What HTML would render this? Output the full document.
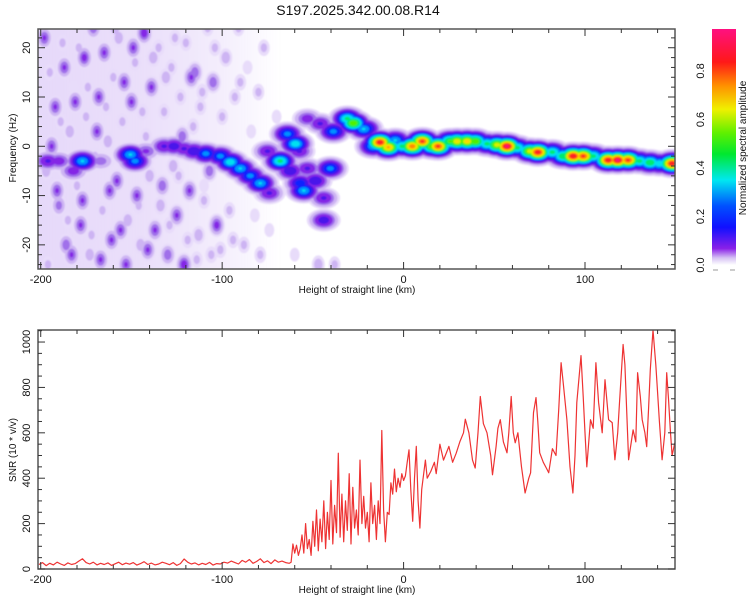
<!DOCTYPE html>
<html><head><meta charset="utf-8">
<style>
html,body{margin:0;padding:0;background:#fff;}
body{width:750px;height:600px;overflow:hidden;font-family:"Liberation Sans",sans-serif;}
svg text{font-family:"Liberation Sans",sans-serif;fill:#111;}
</style></head>
<body>
<svg id="chart" width="750" height="600" xmlns="http://www.w3.org/2000/svg">
<defs>
<clipPath id="clipTop"><rect x="38" y="29" width="637" height="240"/></clipPath>
<clipPath id="clipBot"><rect x="38" y="330" width="637" height="239"/></clipPath>
<filter id="soft" x="-5%" y="-5%" width="110%" height="110%"><feGaussianBlur stdDeviation="0.9"/></filter>
<linearGradient id="hazeGrad" x1="0" y1="0" x2="1" y2="0">
<stop offset="0" stop-color="#e2d2f8" stop-opacity="0.85"/>
<stop offset="0.45" stop-color="#e2d2f8" stop-opacity="0.7"/>
<stop offset="0.75" stop-color="#e2d2f8" stop-opacity="0.4"/>
<stop offset="1" stop-color="#e2d2f8" stop-opacity="0"/>
</linearGradient>
<linearGradient id="cbGrad" x1="0" y1="1" x2="0" y2="0">
<stop offset="0" stop-color="#ffffff"/>
<stop offset="0.03" stop-color="#d6c2f4"/>
<stop offset="0.07" stop-color="#8a20e8"/>
<stop offset="0.16" stop-color="#1010ff"/>
<stop offset="0.25" stop-color="#0050ff"/>
<stop offset="0.36" stop-color="#00e8f0"/>
<stop offset="0.47" stop-color="#00e830"/>
<stop offset="0.56" stop-color="#60f000"/>
<stop offset="0.66" stop-color="#f0f000"/>
<stop offset="0.76" stop-color="#ff9000"/>
<stop offset="0.86" stop-color="#ff1818"/>
<stop offset="1" stop-color="#ff1080"/>
</linearGradient>
</defs>
<text x="358" y="15" font-size="14" text-anchor="middle">S197.2025.342.00.08.R14</text>
<g id="topPlot"></g>
<g id="botPlot"></g>
<g id="colorbar"></g>
</svg>
<script>
// ---------- data ----------
const xDomain = [-201.5, 149.6];
const freqDomain = [-24.9, 23.8];
const snrDomain = [0, 1053];
const xTickLabels = [-200, -100, 0, 100];
const freqTickLabels = [-20, -10, 0, 10, 20];
const snrTickLabels = [0, 200, 400, 600, 800, 1000];
const cbTickLabels = [0.0, 0.2, 0.4, 0.6, 0.8];

// haze region of low-level noise (km)
const hazeStart = [-201.5];
const hazeEnd = [-68];

// ridge blobs (km, Hz, normalized amplitude)
const ridgeKm = [-196,-190,-182,-177,-167,-150.6,-148,-142,-132,-126.6,-121,-115.6,-109,-101,-95.5,-90,-84.5,-79,-74,-75,-68,-62.5,-57,-55,-64,-59.6,-57.5,-53,-48.6,-44,-44,-53,-46,-40.4,-38.7,-31,-27.7,-22,-21,-16.7,-13,-8.4,-4.6,-0.7,4.8,10.3,15.8,19,25.7,29.5,35,39.5,46,51.5,57,62.6,69.7,74,82,88,93.5,99,104.5,112.8,118,123.7,130,135.8,141,148];
const ridgeHz = [-3,-3,-5,-3,-3,-1.7,-3,-1,0,0,-0.5,-1,-1.5,-2,-3.2,-4.5,-6,-7.5,-9.5,-1,-3,-5,-7.5,-9,2.5,0.5,-1,-4.5,-7,-10.5,-15,5.6,4.6,-4.5,3,5.6,4.7,3.5,3.6,0,0.8,-0.2,1.2,0,0,1,0,0,1,1,1,1,0.5,0.3,0,-0.3,-1,-1.2,-1.2,-2,-2,-2,-2,-2.8,-2.8,-2.8,-3,-3.3,-3.5,-3.5];
const ridgeAmp = [0.15,0.12,0.12,0.35,0.08,0.35,0.3,0.1,0.15,0.18,0.15,0.2,0.3,0.3,0.4,0.35,0.3,0.35,0.15,0.15,0.45,0.2,0.25,0.35,0.3,0.4,0.15,0.15,0.2,0.15,0.18,0.12,0.15,0.3,0.3,0.45,0.6,0.35,0.3,0.35,0.9,0.75,0.35,0.45,0.8,0.85,0.6,0.85,0.55,0.68,0.7,0.6,0.45,0.65,0.95,0.45,0.65,0.9,0.45,0.5,0.92,0.85,0.45,0.9,0.95,0.85,0.45,0.5,0.4,0.9];

// background noise blobs (km, Hz, amplitude)
const noiseKm = [-198,-195,-192,-190,-188,-186,-184,-182,-180,-178,-176,-175,-173,-171,-170,-168,-166,-165,-163,-161,-160,-158,-157,-155,-153,-152,-150,-148,-147,-145,-143,-142,-140,-139,-137,-135,-134,-132,-130,-128,-127,-125,-123,-121,-120,-118,-116,-115,-113,-112,-110,-108,-107,-105,-103,-101,-100,-98,-96,-94,-93,-91,-88,-86,-84,-82,-80,-79,-77,-74,-70,-60,-47,-197,-196,-194,-191,-189,-187,-185,-183,-181,-179,-177,-174,-172,-169,-167,-164,-162,-159,-156,-154,-151,-149,-146,-144,-141,-138,-136,-133,-131,-129,-126,-124,-122,-119,-117,-114,-111,-109,-106,-104,-38,-90,-110];
const noiseHz = [22,15,8,-12,21,-20,3,12,-8,-16,18,6,-22,24,-2,10,-13,19,1,-19,14,-7,22,5,-24,-15,9,17,-10,-20,23,2,-6,12,-17,20,-12,7,-22,16,-4,-14,10,-24,21,-9,4,15,-18,8,-11,24,-5,13,-16,-21,6,18,-13,-19,10,24,-20,16,3,-14,11,-22,20,-17,6,-22,-24,-5,-24,0,-9,5,16,-15,-22,9,20,-11,12,-18,3,-23,8,-9,24,-17,13,-4,20,-12,7,-21,18,0,-8,14,-16,22,-6,2,-19,14,-23,11,-3,-22,20,-24,13,-8];
const noiseAmp = [0.1,0.04,0.1,0.08,0.04,0.09,0.05,0.03,0.04,0.1,0.11,0.04,0.05,0.09,0.04,0.1,0.04,0.1,0.05,0.1,0.04,0.1,0.05,0.04,0.1,0.05,0.1,0.04,0.1,0.05,0.12,0.04,0.05,0.1,0.1,0.04,0.05,0.04,0.09,0.04,0.05,0.1,0.04,0.12,0.04,0.1,0.04,0.09,0.05,0.04,0.04,0.04,0.09,0.09,0.11,0.04,0.04,0.05,0.04,0.04,0.04,0.04,0.04,0.03,0.03,0.03,0.04,0.04,0.04,0.03,0.03,0.03,0.05,0.05,0.04,0.1,0.1,0.04,0.1,0.04,0.1,0.1,0.04,0.1,0.04,0.04,0.1,0.1,0.04,0.1,0.05,0.1,0.1,0.04,0.1,0.04,0.04,0.1,0.05,0.04,0.09,0.05,0.04,0.04,0.04,0.09,0.04,0.1,0.04,0.04,0.04,0.04,0.04,0.04,0.04,0.03];

// SNR series
const snrKm = [-201,-199,-197,-195,-193,-191,-189,-187,-185,-183,-181,-179,-177,-175,-173,-171,-169,-167,-165,-163,-161,-159,-157,-155,-153,-151,-149,-147,-145,-143,-141,-139,-137,-135,-133,-131,-129,-127,-125,-123,-121,-119,-117,-115,-113,-111,-109,-107,-105,-103,-101,-99,-97,-95,-93,-91,-89,-87,-85,-83,-81,-79,-77,-75,-73,-71,-69,-67,-65,-63,
-62,-61,-60,-59,-58,-57,-56,-55,-54,-53,-52,-51,-50,-49,-48,-47,-46,-45,-44,-43,-42,-41,-40,-39,-38,-37,-36,-35,-34,-33,-32,-31,-30,-29,-28,-27,-26,-25,-24,-23,-22,-21,-20,-19,-18,-17,-16,-15,-14,-13,-12,-11,-10,-9,-8,-7,-6,-5,-4,-3,-2,-1,0,
1,2,3,4,5,6,7,8,9,10,12,13,15,17,18,20,22,24,25,27,29,31,33,34,36,38,39.5,41,42.3,44,46,48,49,51,52,53.3,55,57,58,59.3,60.5,61.5,63,65,67,69,70,71.6,73,74,75,77,79,80,82,84,85.5,86.8,88,90,91.7,93.3,94.5,95.5,97.8,99,100,101,103,104.5,106,107.5,109.5,111,113,115,116.5,118,119,121,122,124,125.5,126.5,128,129,130.5,131.5,133,134,135,136,137.5,139,139.8,141,142.5,144,145,146,147,148,149.5];
const snrVal = [20,28,15,25,18,30,22,16,27,20,24,35,45,28,22,30,18,25,20,27,16,23,30,19,26,21,28,17,24,32,20,26,18,22,30,25,19,28,16,24,44,30,22,27,18,25,20,29,17,24,22,30,26,35,28,22,38,30,42,25,33,45,28,36,24,40,30,35,28,25,
30,110,70,105,60,90,150,70,200,90,130,60,210,100,260,80,220,120,300,90,250,130,390,110,280,160,510,140,330,120,300,170,420,110,360,180,260,150,480,200,320,180,250,120,380,200,280,130,300,200,610,260,120,250,240,380,330,440,340,400,360,420,390,
410,470,525,350,210,400,540,300,180,350,480,400,430,470,420,550,480,520,540,470,510,560,600,660,600,480,445,600,760,640,600,500,415,540,620,658,560,512,600,760,600,556,600,450,335,400,424,689,755,650,512,470,440,424,530,500,700,909,821,658,450,335,500,733,940,760,600,450,658,620,909,733,600,834,658,645,481,600,733,989,900,481,560,613,560,865,760,658,600,539,700,878,1053,900,805,650,481,600,865,750,613,500,556];

// ---------- helpers ----------
const NS = "http://www.w3.org/2000/svg";
function mk(tag, attrs, parent){const e=document.createElementNS(NS,tag);for(const k in attrs)e.setAttribute(k,attrs[k]);parent.appendChild(e);return e;}
const L=38,R=675;
function xs(v){return L+(v-xDomain[0])/(xDomain[1]-xDomain[0])*(R-L);}
const TT=29,TB=269;
function ysF(v){return TB-(v-freqDomain[0])/(freqDomain[1]-freqDomain[0])*(TB-TT);}
const BT=330,BB=569;
function ysS(v){return BB-(v-snrDomain[0])/(snrDomain[1]-snrDomain[0])*(BB-BT);}
const pxPerKm=(R-L)/(xDomain[1]-xDomain[0]);
const pxPerHz=(TB-TT)/(freqDomain[1]-freqDomain[0]);

function frame(g,top,bot,name){
  const r=mk('rect',{x:L,y:top,width:R-L,height:bot-top,fill:'none',stroke:'#555','stroke-width':1.5},g);
  
  
  for(let v=-200;v<=140;v+=20){
    const x=xs(v),len=(v%100===0)?7:4;
    mk('line',{x1:x,y1:bot,x2:x,y2:bot-len,stroke:'#333','stroke-width':1},g);
    mk('line',{x1:x,y1:top,x2:x,y2:top+len,stroke:'#333','stroke-width':1},g);
  }
  xTickLabels.forEach(v=>{
    const t=mk('text',{x:xs(v),y:bot+14,'font-size':11,'text-anchor':'middle'},g);
    t.textContent=v;
    
    
  });
  const xt=mk('text',{x:357,y:bot+24,'font-size':10,'text-anchor':'middle'},g);
  xt.textContent='Height of straight line (km)';
  
  
}

// ---------- top spectrogram ----------
const gTop=document.getElementById('topPlot');
const gClip=mk('g',{'clip-path':'url(#clipTop)'},gTop);
const gMarks=mk('g',{filter:'url(#soft)'},gClip);
for(let i=0;i<hazeStart.length;i++){
  const h=mk('rect',{x:xs(hazeStart[i]),y:TT,width:xs(hazeEnd[i])-xs(hazeStart[i]),height:TB-TT,fill:'url(#hazeGrad)'},gMarks);
  
  
}
const levels=[0.015,0.03,0.06,0.09,0.14,0.2,0.27,0.34,0.42,0.52,0.6,0.67,0.74,0.82,0.92];
const levelColors=['#e8dcfa','#cdb4f3','#a070ea','#8426e6','#4a12ea','#0a22ff','#0090ff','#00e0f0','#00ea70','#50f000','#d6f000','#ffd400','#ff8c00','#ff2020','#ff1080'];
const blobs=[];
for(let i=0;i<noiseKm.length;i++)blobs.push({k:noiseKm[i],f:noiseHz[i],a:noiseAmp[i],sx:2.3,sy:1.2,n:'noise-blob'});
for(let i=0;i<ridgeKm.length;i++)blobs.push({k:ridgeKm[i],f:ridgeHz[i],a:ridgeAmp[i],sx:4.2,sy:1.05,n:'ridge-blob'});
levels.forEach((lv,li)=>{
  blobs.forEach(b=>{
    if(b.a<=lv)return;
    const s=Math.sqrt(2*Math.log(b.a/lv));
    const e=mk('ellipse',{cx:xs(b.k),cy:ysF(b.f),rx:b.sx*s*pxPerKm,ry:b.sy*s*pxPerHz,fill:levelColors[li]},gMarks);
    
    
  });
});
frame(gTop,TT,TB,'spectrogram-frame');
for(let v=-24;v<=22;v+=2){
  const y=ysF(v),len=(v%10===0)?7:4;
  mk('line',{x1:L,y1:y,x2:L+len,y2:y,stroke:'#333','stroke-width':1},gTop);
  mk('line',{x1:R,y1:y,x2:R-len,y2:y,stroke:'#333','stroke-width':1},gTop);
}
freqTickLabels.forEach(v=>{
  const y=ysF(v);
  const t=mk('text',{x:0,y:0,'font-size':11,'text-anchor':'middle',transform:`translate(30,${y}) rotate(-90)`},gTop);
  t.textContent=v;
  
  
});
const ft=mk('text',{x:0,y:0,'font-size':10,'text-anchor':'middle',transform:`translate(16,148) rotate(-90)`},gTop);
ft.textContent='Frequency (Hz)';



// ---------- bottom SNR ----------
const gBot=document.getElementById('botPlot');
const gLine=mk('g',{'clip-path':'url(#clipBot)'},gBot);
let d='';
for(let i=0;i<snrKm.length;i++){d+=(i?'L':'M')+xs(snrKm[i]).toFixed(1)+','+ysS(snrVal[i]).toFixed(1);}
const p=mk('path',{d:d,fill:'none',stroke:'#ee3333','stroke-width':1.2,'stroke-linejoin':'round'},gLine);


frame(gBot,BT,BB,'snr-frame');
for(let v=0;v<=1050;v+=50){
  const y=ysS(v),len=(v%200===0)?7:4;
  mk('line',{x1:L,y1:y,x2:L+len,y2:y,stroke:'#333','stroke-width':1},gBot);
  mk('line',{x1:R,y1:y,x2:R-len,y2:y,stroke:'#333','stroke-width':1},gBot);
}
snrTickLabels.forEach(v=>{
  const y=ysS(v);
  const t=mk('text',{x:0,y:0,'font-size':11,'text-anchor':'middle',transform:`translate(30,${y}) rotate(-90)`},gBot);
  t.textContent=v;
  
  
});
const st=mk('text',{x:0,y:0,'font-size':10,'text-anchor':'middle',transform:`translate(16,450) rotate(-90)`},gBot);
st.textContent='SNR (10 * v/v)';



// ---------- colorbar ----------
const gCb=document.getElementById('colorbar');
const cbTop=29,cbBot=265,cbL=712,cbW=24,cbMax=0.973;
function ysC(v){return cbBot-v/cbMax*(cbBot-cbTop);}
const cr=mk('rect',{x:cbL,y:cbTop,width:cbW,height:cbBot-cbTop,fill:'url(#cbGrad)'},gCb);


mk('line',{x1:cbL+1,y1:cbBot+5,x2:cbL+6,y2:cbBot+5,stroke:'#999','stroke-width':1},gCb);
mk('line',{x1:cbL+cbW-6,y1:cbBot+5,x2:cbL+cbW-1,y2:cbBot+5,stroke:'#999','stroke-width':1},gCb);
cbTickLabels.forEach(v=>{
  const t=mk('text',{x:0,y:0,'font-size':11,'text-anchor':'middle',transform:`translate(704,${ysC(v)}) rotate(-90)`},gCb);
  t.textContent=v.toFixed(1);
  
  
});
const ct=mk('text',{x:0,y:0,'font-size':10,'text-anchor':'middle',transform:`translate(746,148) rotate(-90)`},gCb);
ct.textContent='Normalized spectral amplitude';


</script>
</body></html>
